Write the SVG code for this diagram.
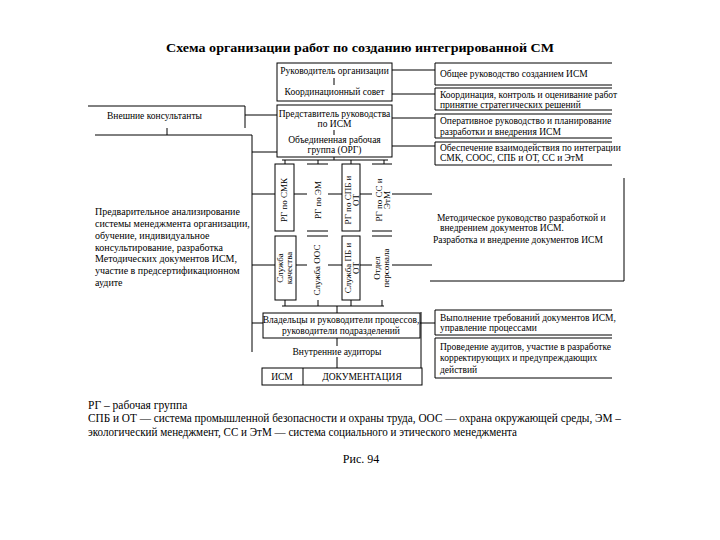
<svg xmlns="http://www.w3.org/2000/svg" width="720" height="540" viewBox="0 0 720 540" font-family="'Liberation Serif', 'DejaVu Serif', serif">
<style>
.b{fill:#fff;stroke:#000;stroke-width:1}
.o{fill:none;stroke:#000;stroke-width:1}
.w{fill:#fff;stroke:none}
text{font-family:'Liberation Serif','DejaVu Serif',serif;fill:#000;font-size:9.5px}
.c{text-anchor:middle}
text.s{font-size:9px}
text.lg{font-size:11.5px}
text.lx{font-size:10px}
text.ttl{font-size:13px;font-weight:bold}
text.fig{font-size:12px}
</style>
<rect width="720" height="540" fill="#fff"/>
<text x="360" y="52" class="c ttl" textLength="388" lengthAdjust="spacingAndGlyphs">Схема организации работ по созданию интегрированной СМ</text>

<g id="connectors" class="o">
<path d="M392,70H435M392,94H435M392,118H435M392,146H435"/>
<path d="M245,115H277M167,128V135"/>
<path d="M252,135V352M252,152H277M252,194H432M252,265H432M252,323H263M420,323H435"/>
<path d="M334,85V78M334,130V135M334,157V160M282,160H388M285,160V164M318,160V164M351,160V164M384,160V164"/>
<path d="M285,300V306M318,300V306M351,300V306M382,300V306M282,306H384M337,306V313"/>
<path d="M337,338V346M337,357V368M421,312V372"/>
<path d="M430,281H624V178"/>
</g>

<g id="n-head">
<rect class="b" x="277" y="63" width="115" height="38"/>
<text x="334.5" y="74" class="c">Руководитель организации</text>
<path class="o" d="M334,78V85"/>
<text x="334.5" y="95" class="c">Координационный совет</text>
</g>
<g id="n-rep">
<rect class="b" x="277" y="105" width="115" height="52"/>
<text x="334.5" y="117" class="c">Представитель руководства</text>
<text x="334.5" y="127" class="c">по ИСМ</text>
<path class="o" d="M334,130V135"/>
<text x="334.5" y="143" class="c">Объединенная рабочая</text>
<text x="334.5" y="153" class="c">группа (ОРГ)</text>
</g>

<g id="r1"><path class="o" d="M612,63H435V85H612"/><text x="440" y="77">Общее руководство созданием ИСМ</text></g>
<g id="r2"><path class="o" d="M612,88H435V110H612"/><text x="440" y="98">Координация, контроль и оценивание работ</text><text x="440" y="108">принятие стратегических решений</text></g>
<g id="r3"><path class="o" d="M612,114H435V138H612"/><text x="440" y="124">Оперативное руководство и планирование</text><text x="440" y="135">разработки и внедрения ИСМ</text></g>
<g id="r4"><path class="o" d="M612,142H435V165H612"/><text x="440" y="151">Обеспечение взаимодействия по интеграции</text><text x="440" y="161">СМК, СООС, СПБ и ОТ, СС и ЭтМ</text></g>

<g id="ext"><path class="o" d="M88,106H245V128"/><text x="107" y="119">Внешние консультанты</text></g>
<g id="ext-work">
<path class="o" d="M95,135H252"/>
<text x="95" y="215" class="lx">Предварительное анализирование</text>
<text x="95" y="227" class="lx">системы менеджмента организации,</text>
<text x="95" y="239" class="lx">обучение, индивидуальное</text>
<text x="95" y="251" class="lx">консультирование, разработка</text>
<text x="95" y="262" class="lx">Методических документов ИСМ,</text>
<text x="95" y="274" class="lx">участие в предсертификационном</text>
<text x="95" y="286" class="lx">аудите</text>
</g>

<g id="rg1"><rect class="b" x="275" y="164" width="19" height="67"/><text class="c s" transform="translate(287,200) rotate(-90)">РГ по СМК</text></g>
<g id="rg2"><rect class="w" x="307" y="164" width="21" height="67"/><path class="o" d="M307,164H328M307,231H328"/><text class="c s" transform="translate(321,200) rotate(-90)">РГ по ЭМ</text></g>
<g id="rg3"><rect class="b" x="342" y="164" width="18" height="67"/><text class="c s" transform="translate(351,200) rotate(-90)">РГ по СПБ и</text><text class="c s" transform="translate(359,200) rotate(-90)">ОТ</text></g>
<g id="rg4"><rect class="w" x="372" y="164" width="20" height="67"/><path class="o" d="M372,164H392M372,231H392"/><text class="c s" transform="translate(382,200) rotate(-90)">РГ по СС и</text><text class="c s" transform="translate(390,200) rotate(-90)">ЭтМ</text></g>

<g id="sl1"><rect class="b" x="275" y="236" width="21" height="64"/><text class="c s" transform="translate(283,268) rotate(-90)">Служба</text><text class="c s" transform="translate(292,268) rotate(-90)">качества</text></g>
<g id="sl2"><rect class="w" x="307" y="236" width="21" height="64"/><path class="o" d="M307,236H328"/><text class="c s" transform="translate(320,270) rotate(-90)">Служба ООС</text></g>
<g id="sl3"><rect class="b" x="342" y="236" width="18" height="64"/><text class="c s" transform="translate(351,268) rotate(-90)">Служба ПБ и</text><text class="c s" transform="translate(359,268) rotate(-90)">ОТ</text></g>
<g id="sl4"><rect class="w" x="372" y="236" width="20" height="64"/><path class="o" d="M372,236H392"/><text class="c s" transform="translate(380,268) rotate(-90)">Отдел</text><text class="c s" transform="translate(389,268) rotate(-90)">персонала</text></g>

<g id="method"><text x="437" y="221">Методическое руководство разработкой и</text><text x="440" y="231">внедрением документов ИСМ.</text><text x="433" y="243">Разработка и внедрение документов ИСМ</text></g>

<g id="owners"><rect class="b" x="263" y="313" width="157" height="25"/><text x="341" y="323" class="c">Владельцы и руководители процессов,</text><text x="341" y="334" class="c">руководители подразделений</text></g>
<g id="auditors"><text x="337" y="355" class="c">Внутренние аудиторы</text></g>
<g id="docs"><rect class="b" x="262" y="368" width="160" height="17"/><path class="o" d="M303,368V385"/><text x="282" y="380" class="c">ИСМ</text><text x="362" y="380" class="c">ДОКУМЕНТАЦИЯ</text></g>

<g id="r5"><path class="o" d="M612,310H435V335H612"/><text x="440" y="321">Выполнение требований документов ИСМ,</text><text x="440" y="331">управление процессами</text></g>
<g id="r6"><path class="o" d="M612,338H435V378H612"/><text x="440" y="350">Проведение аудитов, участие в разработке</text><text x="440" y="361">корректирующих и предупреждающих</text><text x="440" y="373">действий</text></g>

<g id="legend">
<text x="88" y="409" class="lg">РГ – рабочая группа</text>
<text x="88" y="422" class="lg" textLength="533" lengthAdjust="spacingAndGlyphs">СПБ и ОТ — система промышленной безопасности и охраны труда, ООС — охрана окружающей среды, ЭМ –</text>
<text x="88" y="436" class="lg" textLength="429" lengthAdjust="spacingAndGlyphs">экологический менеджмент, СС и ЭтМ — система социального и этического менеджмента</text>
<text x="361" y="463" class="c fig">Рис. 94</text>
</g>
</svg>
